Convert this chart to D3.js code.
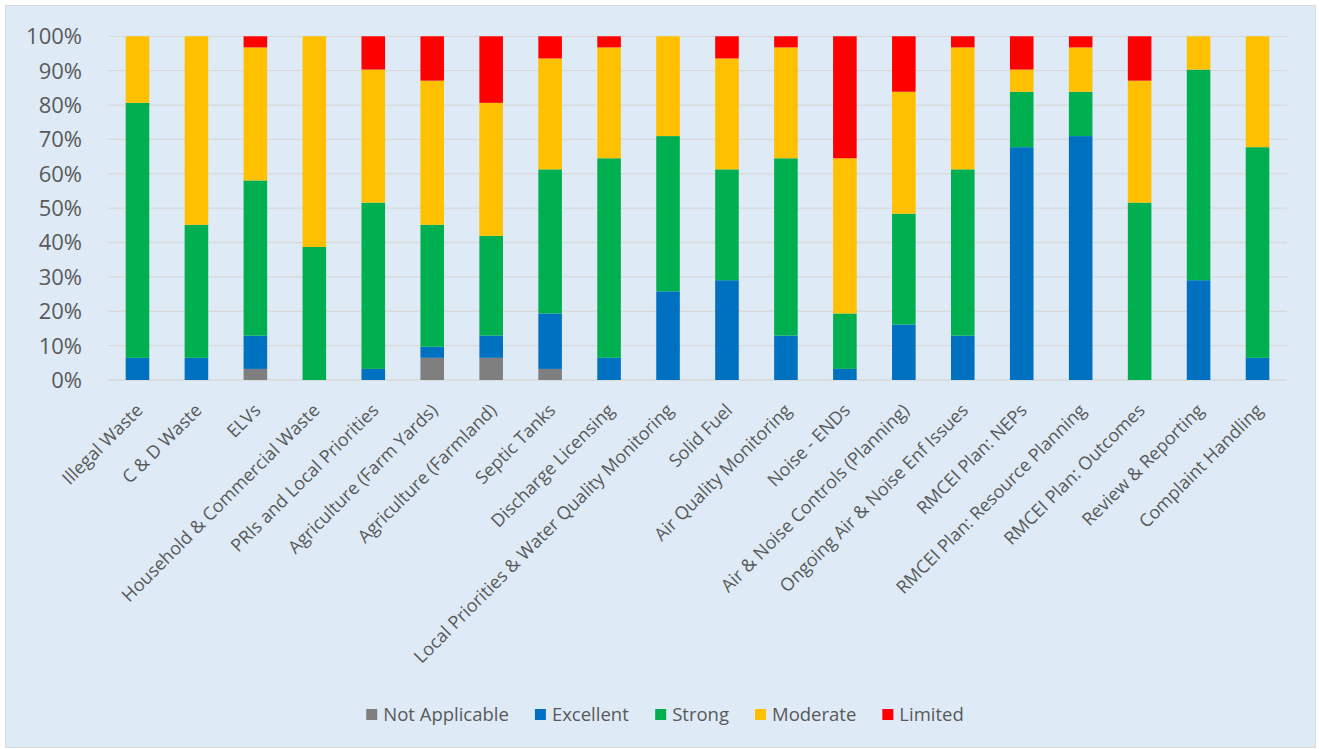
<!DOCTYPE html>
<html>
<head>
<meta charset="utf-8">
<script src="https://cdn.jsdelivr.net/npm/d3@7"></script>
<style>
  body { margin: 0; background: #fff; }
  svg { display: block; }
</style>
</head>
<body>
<div id="chart"></div>
<script>
// number of authorities per rating (each bar = 31)
var categories = ["Illegal Waste", "C & D Waste", "ELVs", "Household & Commercial Waste", "PRIs and Local Priorities",
    "Agriculture (Farm Yards)", "Agriculture (Farmland)", "Septic Tanks", "Discharge Licensing",
    "Local Priorities & Water Quality Monitoring", "Solid Fuel", "Air Quality Monitoring", "Noise - ENDs",
    "Air & Noise Controls (Planning)", "Ongoing Air & Noise Enf Issues", "RMCEI Plan: NEPs",
    "RMCEI Plan: Resource Planning", "RMCEI Plan: Outcomes", "Review & Reporting", "Complaint Handling"];
var notApplicable = [0, 0, 1, 0, 0, 2, 2, 1, 0, 0, 0, 0, 0, 0, 0, 0, 0, 0, 0, 0];
var excellent     = [2, 2, 3, 0, 1, 1, 2, 5, 2, 8, 9, 4, 1, 5, 4, 21, 22, 0, 9, 2];
var strong        = [23, 12, 14, 12, 15, 11, 9, 13, 18, 14, 10, 16, 5, 10, 15, 5, 4, 16, 19, 19];
var moderate      = [6, 17, 12, 19, 12, 13, 12, 10, 10, 9, 10, 10, 14, 11, 11, 2, 4, 11, 3, 10];
var limited       = [0, 0, 1, 0, 3, 4, 6, 2, 1, 0, 2, 1, 11, 5, 1, 3, 1, 4, 0, 0];

var seriesNames = ["Not Applicable", "Excellent", "Strong", "Moderate", "Limited"];
var palette = ["#7f7f7f", "#0070c0", "#00b050", "#ffc000", "#ff0000"];
var yTicks = [0, 0.1, 0.2, 0.3, 0.4, 0.5, 0.6, 0.7, 0.8, 0.9, 1];

var rows = categories.map((c, i) => ({
    cat: c,
    "Not Applicable": notApplicable[i],
    "Excellent": excellent[i],
    "Strong": strong[i],
    "Moderate": moderate[i],
    "Limited": limited[i]
}));

var width = 1319, height = 749;
var font = "'Open Sans', 'Noto Sans', sans-serif";
var textColor = "#595959";

var svg = d3.select("#chart")
    .append("svg")
    .attr("width", width)
    .attr("height", height);

svg.append("rect")
    .attr("x", 5.5).attr("y", 5.5)
    .attr("width", 1310).attr("height", 742)
    .attr("fill", "#deebf7")
    .attr("stroke", "#d9d9d9")
    .attr("stroke-width", 1);

var x = d3.scaleBand()
    .domain(categories)
    .range([108, 1287])
    .paddingInner(0.6)
    .paddingOuter(0.3);

var y = d3.scaleLinear()
    .domain([0, 1])
    .range([380, 36.3]);

var color = d3.scaleOrdinal(palette).domain(seriesNames);

// gridlines
svg.append("g")
    .selectAll("line")
    .data(yTicks)
    .join("line")
    .attr("x1", 108).attr("x2", 1287)
    .attr("y1", d => y(d)).attr("y2", d => y(d))
    .attr("stroke", "#d9d9d9")
    .attr("stroke-width", 1.3);

// y labels
svg.append("g")
    .selectAll("text")
    .data(yTicks)
    .join("text")
    .attr("x", 82)
    .attr("y", d => y(d))
    .attr("dy", "0.36em")
    .attr("text-anchor", "end")
    .attr("fill", textColor)
    .style("font", "22px " + font)
    .text(d3.format(".0%"));

var stacked = d3.stack()
    .keys(seriesNames)
    .offset(d3.stackOffsetExpand)(rows);

svg.append("g")
    .selectAll("g")
    .data(stacked)
    .join("g")
    .attr("fill", d => color(d.key))
    .selectAll("rect")
    .data(d => d)
    .join("rect")
    .attr("x", d => x(d.data.cat))
    .attr("width", x.bandwidth())
    .attr("y", d => y(d[1]))
    .attr("height", d => y(d[0]) - y(d[1]));

// x labels, rotated
svg.append("g")
    .selectAll("text")
    .data(categories)
    .join("text")
    .attr("text-anchor", "end")
    .attr("dy", "0.35em")
    .attr("transform", d => `translate(${x(d) + x.bandwidth() / 2 + 2},407) rotate(-45)`)
    .attr("fill", textColor)
    .style("font", "18px " + font)
    .text(d => d);

// legend
var legend = svg.append("g");
var items = legend.selectAll("g")
    .data(seriesNames)
    .join("g");
items.append("rect")
    .attr("width", 11).attr("height", 11)
    .attr("y", -6)
    .attr("fill", d => color(d));
items.append("text")
    .attr("x", 17)
    .attr("dy", "0.35em")
    .attr("fill", textColor)
    .style("font", "18.5px " + font)
    .text(d => d);

var pos = 0;
items.each(function() {
    var w = this.getBBox().width;
    d3.select(this).attr("data-x", pos);
    pos += w + 26;
});
var total = pos - 26;
var start = 665 - total / 2;
items.attr("transform", function() {
    return `translate(${start + +this.getAttribute("data-x")},715)`;
});
</script>
</body>
</html>
